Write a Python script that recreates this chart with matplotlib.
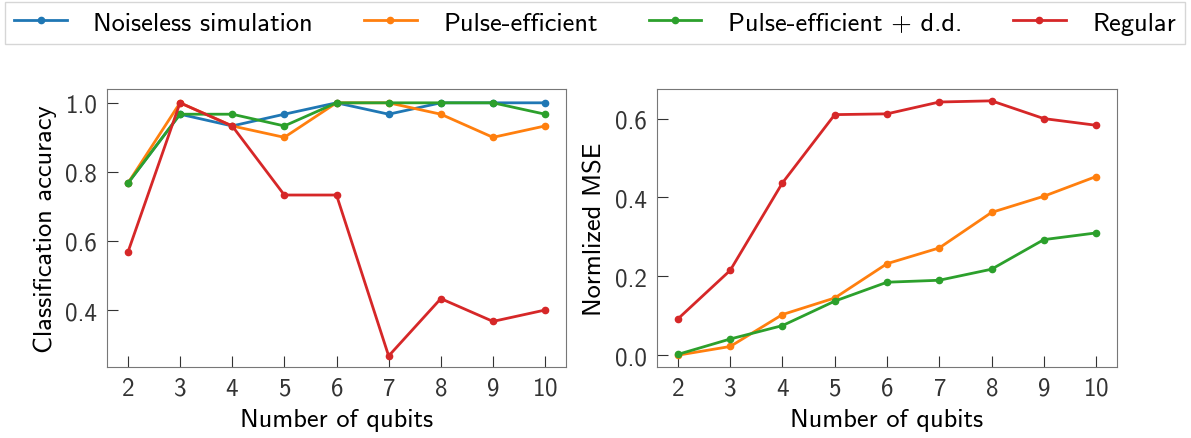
import numpy as np
import matplotlib; matplotlib.use("Agg")
import matplotlib.pyplot as plt

plt.rcParams["font.family"] = ["cmss10", "DejaVu Sans"]
plt.rcParams["axes.formatter.use_mathtext"] = True
plt.rcParams["mathtext.fontset"] = "cm"

qubits = [2, 3, 4, 5, 6, 7, 8, 9, 10]
labels = ["Noiseless simulation", "Pulse-efficient", "Pulse-efficient + d.d.", "Regular"]
colors = ["#1f77b4", "#ff7f0e", "#2ca02c", "#d62728"]

# classification accuracy (left)
acc_noiseless = [0.767, 0.967, 0.933, 0.967, 1.0, 0.967, 1.0, 1.0, 1.0]
acc_pulse     = [0.767, 1.0, 0.933, 0.9, 1.0, 1.0, 0.967, 0.9, 0.933]
acc_pulse_dd  = [0.767, 0.967, 0.967, 0.933, 1.0, 1.0, 1.0, 1.0, 0.967]
acc_regular   = [0.567, 1.0, 0.933, 0.733, 0.733, 0.267, 0.433, 0.367, 0.4]

# normalized MSE (right)
mse_pulse    = [0.0, 0.022, 0.103, 0.145, 0.232, 0.272, 0.362, 0.403, 0.453]
mse_pulse_dd = [0.002, 0.041, 0.075, 0.137, 0.185, 0.19, 0.218, 0.293, 0.31]
mse_regular  = [0.092, 0.215, 0.437, 0.610, 0.612, 0.642, 0.645, 0.600, 0.583]

fig = plt.figure(figsize=(11.91, 4.39), dpi=100)
ax1 = fig.add_axes([107/1191, 1-368/439, 459/1191, 278/439])
ax2 = fig.add_axes([657/1191, 1-368/439, 460/1191, 278/439])

lines = []
for ys, c, lab in zip([acc_noiseless, acc_pulse, acc_pulse_dd, acc_regular], colors, labels):
    l, = ax1.plot(qubits, ys, "-o", color=c, lw=2, ms=4.5, label=lab)
    lines.append(l)
for ys, c in zip([mse_pulse, mse_pulse_dd, mse_regular], colors[1:]):
    ax2.plot(qubits, ys, "-o", color=c, lw=2, ms=4.5)

ax1.set_ylim(0.235, 1.04)
ax1.set_yticks([0.4, 0.6, 0.8, 1.0])
ax1.set_ylabel("Classification accuracy", fontsize=19, labelpad=6)
ax2.set_ylim(-0.03, 0.675)
ax2.set_yticks([0.0, 0.2, 0.4, 0.6])
ax2.set_ylabel("Normlized MSE", fontsize=19, labelpad=6)
for ax in (ax1, ax2):
    ax.set_xlim(1.6, 10.4)
    ax.set_xticks(qubits)
    ax.set_xlabel("Number of qubits", fontsize=19, labelpad=6)
    ax.tick_params(direction="in", length=8, labelsize=18, colors="#333333", pad=7)
    for s in ax.spines.values():
        s.set_color("#777777")
    ax.yaxis.set_major_formatter(matplotlib.ticker.FormatStrFormatter("%.1f"))

fig.legend(handles=lines, loc="upper left", bbox_to_anchor=(5/1191, 1-3/439, 1180/1191, 0.0),
           mode="expand", ncol=4, fontsize=19, frameon=True, fancybox=False,
           edgecolor="#cccccc", borderaxespad=0, handlelength=2.0, handletextpad=1.0,
           borderpad=0.35)

fig.savefig("out.png", dpi=100)
